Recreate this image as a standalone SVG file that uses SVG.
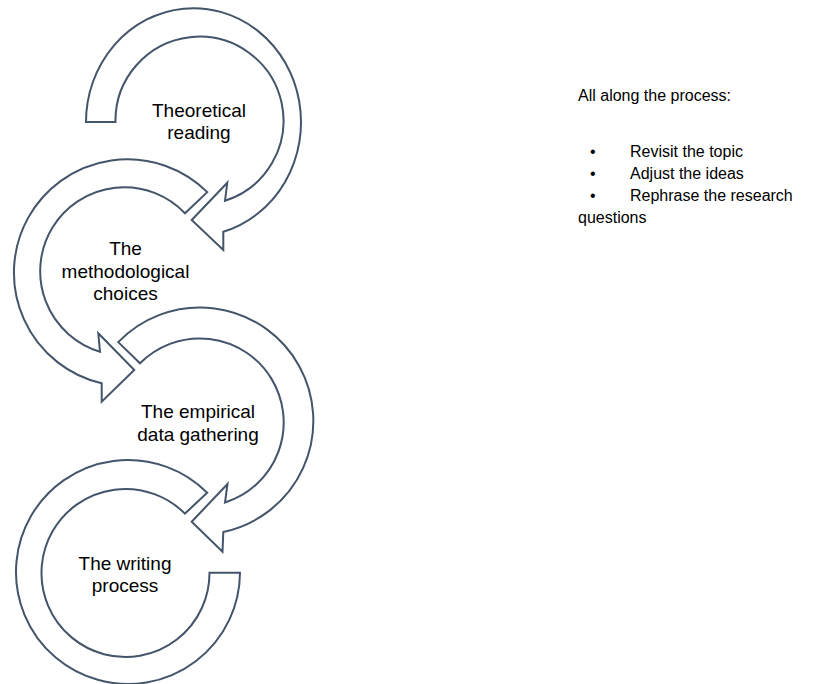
<svg xmlns="http://www.w3.org/2000/svg" width="831" height="684" viewBox="0 0 831 684">
<style>
.arrow{fill:#ffffff;stroke:#44546A;stroke-width:2;stroke-linejoin:miter}
.lbl{font-family:"Liberation Sans",Arial,sans-serif;font-size:19px;fill:#000000;text-anchor:middle}
.side{font-family:"Liberation Sans",Arial,sans-serif;font-size:16px;fill:#000000}
</style>
<rect width="831" height="684" fill="#ffffff"/>
<g id="connectors"></g>
<g id="node-theoretical">
<path class="arrow" d="M 86,122 A 107.5,114 0 1,1 223.3,231.7 L 223.3,250 L 191.7,220 L 227.3,182.7 L 225,200.7 A 84,84 0 1,0 115.5,122 Z"/>
<text class="lbl" x="199" y="116.5">Theoretical</text>
<text class="lbl" x="199" y="139">reading</text>
</g>
<g id="node-methodological">
<path class="arrow" d="M 207.3,192.1 A 113.5,113.5 0 1,0 101.7,383.3 L 101.7,401.7 L 134.3,370 L 98.3,333.3 L 100,351.7 A 84,84 0 1,1 185,213.3 Z"/>
<text class="lbl" x="125.5" y="255">The</text>
<text class="lbl" x="125.5" y="277.5">methodological</text>
<text class="lbl" x="125.5" y="300">choices</text>
</g>
<g id="node-empirical">
<path class="arrow" d="M 118.2,342.1 A 113.5,113.5 0 1,1 223.3,532 L 222.5,551.7 L 191.7,521.7 L 227.5,484 L 225,502.5 A 84,84 0 1,0 140,363.3 Z"/>
<text class="lbl" x="198" y="418">The empirical</text>
<text class="lbl" x="198" y="440.5">data gathering</text>
</g>
<g id="node-writing">
<path class="arrow" d="M 207.2,492.8 A 112,112 0 1,0 240,572.7 L 209.5,572.7 A 84,84 0 1,1 184.9,513.6 Z"/>
<text class="lbl" x="125" y="569.5">The writing</text>
<text class="lbl" x="125" y="592">process</text>
</g>
<g id="note">
<text class="side" x="578" y="100.5">All along the process:</text>
<text class="side" x="590" y="156.5">•</text>
<text class="side" x="630" y="156.5">Revisit the topic</text>
<text class="side" x="590" y="178.5">•</text>
<text class="side" x="630" y="178.5">Adjust the ideas</text>
<text class="side" x="590" y="200.5">•</text>
<text class="side" x="630" y="200.5">Rephrase the research</text>
<text class="side" x="578" y="222.5">questions</text>
</g>
</svg>
